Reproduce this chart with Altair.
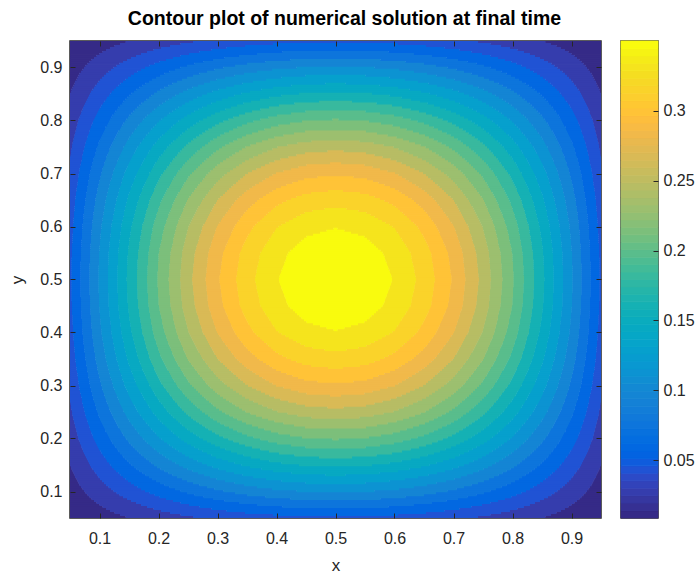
import numpy as np
import pandas as pd
import altair as alt

alt.data_transformers.disable_max_rows()

# ---- data -----------------------------------------------------------------
x_grid = [0.05, 0.10, 0.15, 0.20, 0.25, 0.30, 0.35, 0.40, 0.45, 0.50,
          0.55, 0.60, 0.65, 0.70, 0.75, 0.80, 0.85, 0.90, 0.95]
y_grid = [0.05, 0.10, 0.15, 0.20, 0.25, 0.30, 0.35, 0.40, 0.45, 0.50,
          0.55, 0.60, 0.65, 0.70, 0.75, 0.80, 0.85, 0.90, 0.95]

u_y005 = [0.0086, 0.0169, 0.0249, 0.0322, 0.0387, 0.0443, 0.0488, 0.0521, 0.0541, 0.0548, 0.0541, 0.0521, 0.0488, 0.0443, 0.0387, 0.0322, 0.0249, 0.0169, 0.0086]
u_y010 = [0.0169, 0.0334, 0.0491, 0.0636, 0.0765, 0.0875, 0.0964, 0.1029, 0.1068, 0.1082, 0.1068, 0.1029, 0.0964, 0.0875, 0.0765, 0.0636, 0.0491, 0.0334, 0.0169]
u_y015 = [0.0249, 0.0491, 0.0721, 0.0934, 0.1124, 0.1286, 0.1416, 0.1511, 0.1569, 0.1589, 0.1569, 0.1511, 0.1416, 0.1286, 0.1124, 0.0934, 0.0721, 0.0491, 0.0249]
u_y020 = [0.0322, 0.0636, 0.0934, 0.1209, 0.1455, 0.1664, 0.1833, 0.1957, 0.2032, 0.2057, 0.2032, 0.1957, 0.1833, 0.1664, 0.1455, 0.1209, 0.0934, 0.0636, 0.0322]
u_y025 = [0.0387, 0.0765, 0.1124, 0.1455, 0.1750, 0.2002, 0.2205, 0.2354, 0.2444, 0.2475, 0.2444, 0.2354, 0.2205, 0.2002, 0.1750, 0.1455, 0.1124, 0.0765, 0.0387]
u_y030 = [0.0443, 0.0875, 0.1286, 0.1664, 0.2002, 0.2291, 0.2523, 0.2693, 0.2797, 0.2832, 0.2797, 0.2693, 0.2523, 0.2291, 0.2002, 0.1664, 0.1286, 0.0875, 0.0443]
u_y035 = [0.0488, 0.0964, 0.1416, 0.1833, 0.2205, 0.2523, 0.2779, 0.2966, 0.3080, 0.3119, 0.3080, 0.2966, 0.2779, 0.2523, 0.2205, 0.1833, 0.1416, 0.0964, 0.0488]
u_y040 = [0.0521, 0.1029, 0.1511, 0.1957, 0.2354, 0.2693, 0.2966, 0.3166, 0.3288, 0.3329, 0.3288, 0.3166, 0.2966, 0.2693, 0.2354, 0.1957, 0.1511, 0.1029, 0.0521]
u_y045 = [0.0541, 0.1068, 0.1569, 0.2032, 0.2444, 0.2797, 0.3080, 0.3288, 0.3414, 0.3457, 0.3414, 0.3288, 0.3080, 0.2797, 0.2444, 0.2032, 0.1569, 0.1068, 0.0541]
u_y050 = [0.0548, 0.1082, 0.1589, 0.2057, 0.2475, 0.2832, 0.3119, 0.3329, 0.3457, 0.3500, 0.3457, 0.3329, 0.3119, 0.2832, 0.2475, 0.2057, 0.1589, 0.1082, 0.0548]
u_y055 = [0.0541, 0.1068, 0.1569, 0.2032, 0.2444, 0.2797, 0.3080, 0.3288, 0.3414, 0.3457, 0.3414, 0.3288, 0.3080, 0.2797, 0.2444, 0.2032, 0.1569, 0.1068, 0.0541]
u_y060 = [0.0521, 0.1029, 0.1511, 0.1957, 0.2354, 0.2693, 0.2966, 0.3166, 0.3288, 0.3329, 0.3288, 0.3166, 0.2966, 0.2693, 0.2354, 0.1957, 0.1511, 0.1029, 0.0521]
u_y065 = [0.0488, 0.0964, 0.1416, 0.1833, 0.2205, 0.2523, 0.2779, 0.2966, 0.3080, 0.3119, 0.3080, 0.2966, 0.2779, 0.2523, 0.2205, 0.1833, 0.1416, 0.0964, 0.0488]
u_y070 = [0.0443, 0.0875, 0.1286, 0.1664, 0.2002, 0.2291, 0.2523, 0.2693, 0.2797, 0.2832, 0.2797, 0.2693, 0.2523, 0.2291, 0.2002, 0.1664, 0.1286, 0.0875, 0.0443]
u_y075 = [0.0387, 0.0765, 0.1124, 0.1455, 0.1750, 0.2002, 0.2205, 0.2354, 0.2444, 0.2475, 0.2444, 0.2354, 0.2205, 0.2002, 0.1750, 0.1455, 0.1124, 0.0765, 0.0387]
u_y080 = [0.0322, 0.0636, 0.0934, 0.1209, 0.1455, 0.1664, 0.1833, 0.1957, 0.2032, 0.2057, 0.2032, 0.1957, 0.1833, 0.1664, 0.1455, 0.1209, 0.0934, 0.0636, 0.0322]
u_y085 = [0.0249, 0.0491, 0.0721, 0.0934, 0.1124, 0.1286, 0.1416, 0.1511, 0.1569, 0.1589, 0.1569, 0.1511, 0.1416, 0.1286, 0.1124, 0.0934, 0.0721, 0.0491, 0.0249]
u_y090 = [0.0169, 0.0334, 0.0491, 0.0636, 0.0765, 0.0875, 0.0964, 0.1029, 0.1068, 0.1082, 0.1068, 0.1029, 0.0964, 0.0875, 0.0765, 0.0636, 0.0491, 0.0334, 0.0169]
u_y095 = [0.0086, 0.0169, 0.0249, 0.0322, 0.0387, 0.0443, 0.0488, 0.0521, 0.0541, 0.0548, 0.0541, 0.0521, 0.0488, 0.0443, 0.0387, 0.0322, 0.0249, 0.0169, 0.0086]

u_rows = [u_y005, u_y010, u_y015, u_y020, u_y025, u_y030, u_y035, u_y040, u_y045, u_y050,
          u_y055, u_y060, u_y065, u_y070, u_y075, u_y080, u_y085, u_y090, u_y095]

axis_ticks = [0.1, 0.2, 0.3, 0.4, 0.5, 0.6, 0.7, 0.8, 0.9]
cbar_ticks = [0.05, 0.1, 0.15, 0.2, 0.25, 0.3]
n_levels = 20
title_text = "Contour plot of numerical solution at final time"

# MATLAB parula colormap (64 entries)
parula = [
    (0.2081, 0.1663, 0.5292), (0.2116, 0.1898, 0.5777), (0.2123, 0.2138, 0.6270), (0.2081, 0.2386, 0.6771),
    (0.1959, 0.2645, 0.7279), (0.1707, 0.2919, 0.7792), (0.1253, 0.3242, 0.8303), (0.0591, 0.3598, 0.8683),
    (0.0117, 0.3875, 0.8820), (0.0060, 0.4086, 0.8828), (0.0165, 0.4266, 0.8786), (0.0329, 0.4430, 0.8720),
    (0.0498, 0.4586, 0.8641), (0.0629, 0.4737, 0.8554), (0.0723, 0.4887, 0.8467), (0.0779, 0.5040, 0.8384),
    (0.0793, 0.5200, 0.8312), (0.0749, 0.5375, 0.8263), (0.0641, 0.5570, 0.8240), (0.0488, 0.5772, 0.8228),
    (0.0343, 0.5966, 0.8199), (0.0265, 0.6137, 0.8135), (0.0239, 0.6287, 0.8038), (0.0231, 0.6418, 0.7913),
    (0.0228, 0.6535, 0.7768), (0.0267, 0.6642, 0.7607), (0.0384, 0.6743, 0.7436), (0.0590, 0.6838, 0.7254),
    (0.0843, 0.6928, 0.7062), (0.1133, 0.7015, 0.6859), (0.1453, 0.7098, 0.6646), (0.1801, 0.7177, 0.6424),
    (0.2178, 0.7250, 0.6193), (0.2586, 0.7317, 0.5954), (0.3022, 0.7376, 0.5712), (0.3482, 0.7424, 0.5473),
    (0.3953, 0.7459, 0.5244), (0.4420, 0.7481, 0.5033), (0.4871, 0.7491, 0.4840), (0.5300, 0.7491, 0.4661),
    (0.5709, 0.7485, 0.4494), (0.6099, 0.7473, 0.4337), (0.6473, 0.7456, 0.4188), (0.6834, 0.7435, 0.4044),
    (0.7184, 0.7411, 0.3905), (0.7525, 0.7384, 0.3768), (0.7858, 0.7356, 0.3633), (0.8185, 0.7327, 0.3498),
    (0.8507, 0.7299, 0.3360), (0.8824, 0.7274, 0.3217), (0.9139, 0.7258, 0.3063), (0.9450, 0.7261, 0.2886),
    (0.9739, 0.7314, 0.2666), (0.9938, 0.7455, 0.2403), (0.9990, 0.7653, 0.2164), (0.9955, 0.7861, 0.1967),
    (0.9880, 0.8066, 0.1794), (0.9789, 0.8271, 0.1633), (0.9697, 0.8481, 0.1475), (0.9626, 0.8705, 0.1309),
    (0.9589, 0.8949, 0.1132), (0.9598, 0.9218, 0.0948), (0.9661, 0.9514, 0.0755), (0.9763, 0.9831, 0.0538),
]
parula_hex = ["#%02x%02x%02x" % tuple(int(round(c * 255)) for c in rgb) for rgb in parula]

# ---- filled-contour rendering (contourf-like) ------------------------------
xg = np.array(x_grid)
yg = np.array(y_grid)
U = np.array(u_rows)
zmin, zmax = U.min(), U.max()
lev_step = (zmax - zmin) / (n_levels + 1)
levels = zmin + lev_step * np.arange(1, n_levels + 1)

nx, ny = 1062, 240
xe = np.linspace(xg[0], xg[-1], nx + 1)
xc = (xe[:-1] + xe[1:]) / 2
ye = np.linspace(yg[0], yg[-1], ny + 1)
yc = (ye[:-1] + ye[1:]) / 2

Ux = np.array([np.interp(xc, xg, U[i]) for i in range(len(yg))])
Uf = np.array([np.interp(yc, yg, Ux[:, k]) for k in range(nx)]).T
band = np.searchsorted(levels, Uf, side="right")
cidx = np.minimum((band * 64) // n_levels, 63)

dx_ov = (xe[1] - xe[0]) * 0.7
dy_ov = (ye[1] - ye[0]) * 0.4
recs = []
for r in range(ny):
    row = cidx[r]
    ch = list(np.flatnonzero(np.diff(row)) + 1)
    starts = [0] + ch
    ends = ch + [nx]
    for s, e in zip(starts, ends):
        recs.append({
            "x0": round(float(xe[s]), 5),
            "x1": round(float(xe[e] + (dx_ov if e < nx else 0)), 5),
            "y0": round(float(ye[r]), 5),
            "y1": round(float(ye[r + 1] + (dy_ov if r < ny - 1 else 0)), 5),
            "c": parula_hex[int(row[s])],
        })
df = pd.DataFrame(recs)

ticks_df = pd.DataFrame({"t": axis_ticks})

cb_edges = np.linspace(zmin, zmax, 65)
cb_df = pd.DataFrame({
    "lo": cb_edges[:-1], "hi": cb_edges[1:],
    "x0": 0.0, "x1": 1.0, "c": parula_hex,
})

# ---- chart -----------------------------------------------------------------
W, H = 531, 477
FONT = "Liberation Sans"
AX = "#262626"
xscale = alt.Scale(domain=[xg[0], xg[-1]], nice=False, zero=False)
yscale = alt.Scale(domain=[yg[0], yg[-1]], nice=False, zero=False)

contour = alt.Chart(df).mark_rect(clip=True, strokeWidth=0).encode(
    x=alt.X("x0:Q", scale=xscale,
            axis=alt.Axis(orient="bottom", values=axis_ticks, format=".1f", title="x",
                          offset=-5, tickSize=5, labelPadding=12, domain=False, grid=False,
                          zindex=1, titlePadding=11)),
    x2="x1:Q",
    y=alt.Y("y0:Q", scale=yscale,
            axis=alt.Axis(orient="left", values=axis_ticks, format=".1f", title="y",
                          offset=-5, tickSize=5, labelPadding=8, domain=False, grid=False,
                          zindex=1, titlePadding=13)),
    y2="y1:Q",
    color=alt.Color("c:N", scale=None),
)

tick_layer = alt.Chart(ticks_df).mark_point(opacity=0).encode(
    x=alt.X("t:Q", scale=xscale,
            axis=alt.Axis(orient="top", values=axis_ticks, labels=False, title=None,
                          offset=-5, tickSize=5, domain=False, grid=False, zindex=1)),
    y=alt.Y("t:Q", scale=yscale,
            axis=alt.Axis(orient="right", values=axis_ticks, labels=False, title=None,
                          offset=-5, tickSize=5, domain=False, grid=False, zindex=1)),
)

main = alt.layer(contour, tick_layer).resolve_axis(x="independent", y="independent").properties(
    width=W, height=H,
    title=alt.TitleParams(title_text, font=FONT, fontSize=19.5, fontWeight="bold",
                          color="#000000", anchor="middle", offset=11, dx=9),
)

cbar = alt.Chart(cb_df).mark_rect(strokeWidth=0.8).encode(
    x=alt.X("x0:Q", scale=alt.Scale(domain=[0, 1], nice=False, zero=False), axis=None),
    x2="x1:Q",
    y=alt.Y("lo:Q", scale=alt.Scale(domain=[float(zmin), float(zmax)], nice=False, zero=False),
            axis=alt.Axis(orient="right", values=cbar_ticks, format=".2~f", title=None,
                          offset=-5, tickSize=5, labelPadding=5, domain=False, grid=False,
                          zindex=1)),
    y2="hi:Q",
    color=alt.Color("c:N", scale=None),
    stroke=alt.Stroke("c:N", scale=None),
).properties(width=37, height=H)

chart = alt.hconcat(main, cbar, spacing=16).properties(
    padding={"left": 8, "top": 8, "right": 0, "bottom": 0},
    background="white",
).configure_view(
    stroke=AX, strokeWidth=1.5,
).configure_axis(
    labelFont=FONT, labelFontSize=16, labelColor=AX,
    titleFont=FONT, titleFontSize=17, titleFontWeight="normal", titleColor=AX,
    tickColor=AX, tickWidth=1,
)

chart.save("out.html", embed_options={"renderer": "svg", "actions": False})
